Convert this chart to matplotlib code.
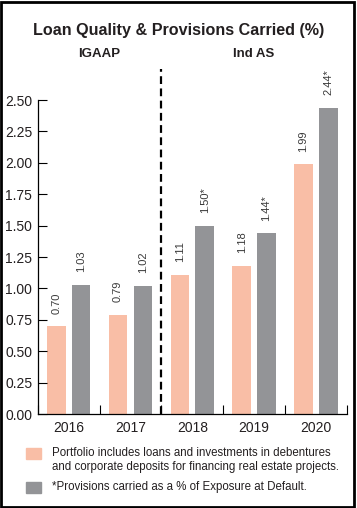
import matplotlib
matplotlib.use("Agg")
import matplotlib.pyplot as plt
from matplotlib.patches import Rectangle

years = ["2016", "2017", "2018", "2019", "2020"]
standard = ["IGAAP", "IGAAP", "Ind AS", "Ind AS", "Ind AS"]
portfolio = [0.70, 0.79, 1.11, 1.18, 1.99]
provisions = [1.03, 1.02, 1.50, 1.44, 2.44]
provision_labels = ["1.03", "1.02", "1.50*", "1.44*", "2.44*"]
yticks = [0.00, 0.25, 0.50, 0.75, 1.00, 1.25, 1.50, 1.75, 2.00, 2.25, 2.50]
legend_texts = [
    "Portfolio includes loans and investments in debentures\nand corporate deposits for financing real estate projects.",
    "*Provisions carried as a % of Exposure at Default.",
]

SALMON = "#f9bea6"
GREY = "#939497"
INK = "#231f20"

plt.rcParams.update({"font.family": ["Liberation Sans", "DejaVu Sans"]})

fig = plt.figure(figsize=(3.57, 5.08), dpi=100)
ax = fig.add_axes([0.1056, 0.185, 0.866, 0.618])

x = list(range(len(years)))
w = 0.3
ax.bar([i - 0.2 for i in x], portfolio, width=w, color=SALMON)
ax.bar([i + 0.2 for i in x], provisions, width=w, color=GREY)

for i, v in enumerate(portfolio):
    ax.annotate(f"{v:.2f}", (i - 0.2, v), xytext=(0, 9), textcoords="offset points",
                rotation=90, ha="center", va="bottom", fontsize=8, color="#3a3a3a")
for i, (v, s) in enumerate(zip(provisions, provision_labels)):
    ax.annotate(s, (i + 0.2, v), xytext=(0, 9), textcoords="offset points",
                rotation=90, ha="center", va="bottom", fontsize=8, color="#3a3a3a",
                annotation_clip=False)

ax.set_xlim(-0.5, len(years) - 0.5)
ax.set_ylim(0, 2.5)
ax.set_yticks(yticks)
ax.set_yticklabels([f"{t:.2f}" for t in yticks])
ax.set_xticks(x)
ax.set_xticklabels(years)
ax.set_xticks([i - 0.5 for i in range(len(years) + 1)], minor=True)
ax.tick_params(axis="x", which="major", length=0, pad=5, labelsize=10, labelcolor=INK)
ax.tick_params(axis="x", which="minor", direction="in", length=6.5, width=0.8)
ax.tick_params(axis="y", direction="in", length=6.5, width=0.8, pad=4, labelsize=10, labelcolor=INK)
for side in ("top", "right"):
    ax.spines[side].set_visible(False)
for side in ("left", "bottom"):
    ax.spines[side].set_linewidth(0.9)

# divider between accounting standards
split = standard.index("Ind AS") - 0.5
ax.plot([split, split], [0, 2.75], color="black", linestyle=(0, (3.5, 2)), linewidth=1.6,
        clip_on=False)

# group headers
for name in ("IGAAP", "Ind AS"):
    idx = [i for i, s in enumerate(standard) if s == name]
    cx = (idx[0] + idx[-1]) / 2
    ax.text(cx, 2.87, name, ha="center", va="center", fontsize=9.5, fontweight="bold",
            color=INK, clip_on=False)

fig.text(0.5, 0.94, "Loan Quality & Provisions Carried (%)", ha="center", va="center",
         fontsize=11.6, fontweight="bold", color=INK)

# legend
for k, (col, txt) in enumerate(zip([SALMON, GREY], legend_texts)):
    top = [448, 482][k]
    fig.patches.append(Rectangle((26 / 357, 1 - (top + 11) / 508), 15 / 357, 11 / 508,
                                 transform=fig.transFigure, color=col))
    fig.text(52 / 357, 1 - (top - 1) / 508, txt, ha="left", va="top", fontsize=8.3,
             color=INK, linespacing=1.25)

fig.patches.append(Rectangle((0.002, 0.002), 0.989, 0.995, transform=fig.transFigure,
                             fill=False, edgecolor="black", linewidth=2))

fig.savefig("out.png", dpi=100)
